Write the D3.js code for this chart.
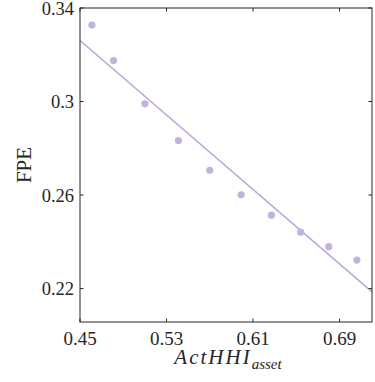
<!DOCTYPE html>
<html>
<head>
<meta charset="utf-8">
<script src="https://cdn.jsdelivr.net/npm/d3@7"></script>
<style>
  body { margin: 0; background: #fff; }
  svg text { font-family: 'Liberation Serif', 'DejaVu Serif', serif; fill: #262626; }
</style>
</head>
<body>
<div id="chart"></div>
<script>
// dati
const actHHI = [0.461, 0.481, 0.510, 0.541, 0.570, 0.599, 0.627, 0.654, 0.680, 0.706];
const fpe = [0.3327, 0.3175, 0.2990, 0.2833, 0.2706, 0.2601, 0.2514, 0.2441, 0.2379, 0.2322];
// retta di regressione (estremi)
const fitX = [0.45, 0.72];
const fitY = [0.3261, 0.2186];
const xTicks = [0.45, 0.53, 0.61, 0.69];
const yTicks = [0.22, 0.26, 0.3, 0.34];

const W = 375, H = 382;
const margin = { left: 80, top: 8, right: 3, bottom: 60 };
const width = W - margin.left - margin.right;
const height = H - margin.top - margin.bottom;

const svg = d3.select('#chart').append('svg')
    .attr('width', W).attr('height', H);
const g = svg.append('g')
    .attr('transform', `translate(${margin.left},${margin.top})`);

const x = d3.scaleLinear().domain([0.45, 0.72]).range([0, width]);
const y = d3.scaleLinear().domain([0.2057, 0.34]).range([height, 0]);

const purple = '#c3b2de';
const lineCol = '#b9a8da';
const axisCol = '#262626';

// linea di fit
g.append('line')
    .attr('x1', x(fitX[0])).attr('y1', y(fitY[0]))
    .attr('x2', x(fitX[1])).attr('y2', y(fitY[1]))
    .attr('stroke', lineCol).attr('stroke-width', 1.6);

// punti
g.selectAll('.dot')
    .data(actHHI.map((v, i) => ({ x: v, y: fpe[i] })))
    .join('circle')
    .attr('class', 'dot')
    .attr('cx', d => x(d.x))
    .attr('cy', d => y(d.y))
    .attr('r', 3.6)
    .attr('fill', purple);

// box + tick interni
const tl = 3.5;
g.append('rect')
    .attr('x', 0).attr('y', 0).attr('width', width).attr('height', height)
    .attr('fill', 'none').attr('stroke', axisCol).attr('stroke-width', 1);

xTicks.forEach(t => {
    g.append('line').attr('x1', x(t)).attr('x2', x(t)).attr('y1', height).attr('y2', height - tl)
        .attr('stroke', axisCol);
    g.append('line').attr('x1', x(t)).attr('x2', x(t)).attr('y1', 0).attr('y2', tl)
        .attr('stroke', axisCol);
    g.append('text')
        .attr('x', x(t)).attr('y', height + 23)
        .attr('text-anchor', 'middle')
        .attr('font-size', 19)
        .text(t.toFixed(2));
});

yTicks.forEach(t => {
    g.append('line').attr('x1', 0).attr('x2', tl).attr('y1', y(t)).attr('y2', y(t))
        .attr('stroke', axisCol);
    g.append('line').attr('x1', width).attr('x2', width - tl).attr('y1', y(t)).attr('y2', y(t))
        .attr('stroke', axisCol);
    g.append('text')
        .attr('x', -6).attr('y', y(t))
        .attr('dy', '0.37em')
        .attr('text-anchor', 'end')
        .attr('font-size', 18.5)
        .text(t === 0.3 ? '0.3' : t.toFixed(2));
});

// etichette assi
const xl = svg.append('text')
    .attr('x', margin.left + width / 2 + 2)
    .attr('y', 364)
    .attr('text-anchor', 'middle')
    .attr('font-style', 'italic')
    .attr('font-size', 21);
xl.append('tspan').attr('letter-spacing', 2).text('ActHHI');
xl.append('tspan').attr('font-size', 15).attr('dy', 5).text('asset');

svg.append('text')
    .attr('transform', 'rotate(-90)')
    .attr('x', -(margin.top + height / 2))
    .attr('y', 31)
    .attr('text-anchor', 'middle')
    .attr('font-size', 21)
    .text('FPE');
</script>
</body>
</html>
